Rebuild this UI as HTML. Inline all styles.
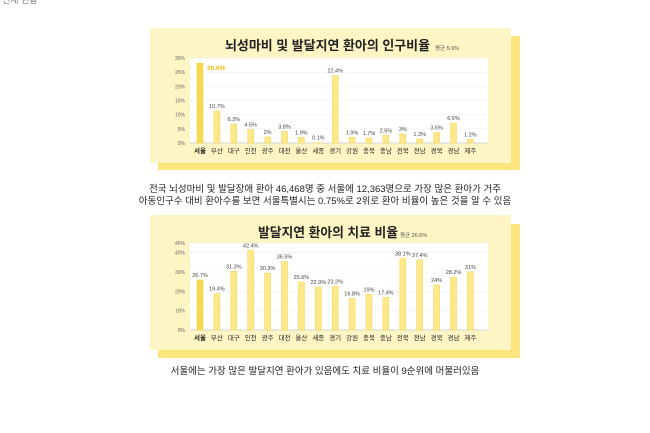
<!DOCTYPE html>
<html><head><meta charset="utf-8"><style>
body{margin:0;width:650px;height:433px;background:#fff;overflow:hidden;font-family:"Liberation Sans","Noto Sans CJK KR",sans-serif;}
svg{position:absolute;left:0;top:0}
.cap{position:absolute;left:0;width:650px;text-align:center;font-size:9.5px;color:#222;font-family:"Liberation Sans","Noto Sans CJK KR",sans-serif;}
</style></head><body>
<svg id="s" width="650" height="433" xmlns="http://www.w3.org/2000/svg" font-family="Liberation Sans, Noto Sans CJK KR, sans-serif">
<text x="2" y="3" font-size="9" fill="#777">전체 현황</text>
<rect x="158" y="36" width="362" height="134" fill="#fbe57c"/>
<rect x="150" y="28" width="361" height="135" fill="#fdf6c4"/>
<rect x="190" y="58" width="298" height="85" fill="#fff"/>
<text x="225" y="50" font-size="13" font-weight="bold" textLength="205" lengthAdjust="spacingAndGlyphs" fill="#222">뇌성마비 및 발달지연 환아의 인구비율</text>
<text x="435" y="50" font-size="5.5" fill="#555">평균 5.9%</text>
<rect x="158" y="224" width="362" height="134" fill="#fbe57c"/>
<rect x="150" y="215" width="361" height="135" fill="#fdf6c4"/>
<rect x="190" y="243" width="298" height="87" fill="#fff"/>
<text x="258" y="237" font-size="13" font-weight="bold" textLength="140" lengthAdjust="spacingAndGlyphs" fill="#222">발달지연 환아의 치료 비율</text>
<text x="400" y="237" font-size="5.5" fill="#555">평균 26.6%</text>
<g id="g"></g>
</svg>
<div class="cap" style="top:181px">전국 뇌성마비 및 발달장애 환아 46,468명 중 서울에 12,363명으로 가장 많은 환아가 거주</div>
<div class="cap" style="top:193px">아동인구수 대비 환아수를 보면 서울특별시는 0.75%로 2위로 환아 비율이 높은 것을 알 수 있음</div>
<div class="cap" style="top:363px">서울에는 가장 많은 발달지연 환아가 있음에도 치료 비율이 9순위에 머물러있음</div>
<script>
var reg=["서울","부산","대구","인천","광주","대전","울산","세종","경기","강원","충북","충남","전북","전남","경북","경남","제주"];
var v1=[26.6,10.7,6.3,4.5,2,3.8,1.9,0.1,22.4,1.9,1.7,2.5,3,1.3,3.5,6.6,1.2];
var v2=[26.7,19.4,31.3,42.4,30.3,36.5,25.6,22.9,23.2,16.8,19,17.4,38.1,37.4,24,28.2,31];
var h="";
function chart(vals,y0,pxper,ticks,tickpx,lx,seoulLbl,fac){
 ticks.forEach(function(t){var y=y0-t*tickpx;h+='<line x1="190" x2="488" y1="'+y+'" y2="'+y+'" stroke="#eee" stroke-width="0.5"/><text x="185" y="'+(y+2)+'" font-size="5" text-anchor="end" fill="#666">'+t+'%</text>';});
 h+='<line x1="190" x2="488" y1="'+y0+'" y2="'+y0+'" stroke="#ccc" stroke-width="0.8"/>';
 vals.forEach(function(v,i){var cx=200+i*16.9,bh=v*pxper*fac,top=y0-bh;
  h+='<rect x="'+(cx-3)+'" y="'+top+'" width="6" height="'+bh+'" fill="'+(i==0?"#f8d94c":"#fde98c")+'" stroke="#f3d44a" stroke-width="0.5"/>';
  if(i==0&&seoulLbl){h+='<text x="207" y="'+(top+7)+'" font-size="6.5" font-weight="bold" fill="#f2b90f">'+v+'%</text>';}
  else h+='<text x="'+cx+'" y="'+(top-3)+'" font-size="5.5" text-anchor="middle" fill="#444">'+v+'%</text>';
  h+='<text x="'+cx+'" y="'+(y0+10)+'" font-size="6.5" text-anchor="middle" fill="#222"'+(i==0?' font-weight="bold"':'')+'>'+reg[i]+'</text>';});
}
chart(v1,143,85/30,[0,5,10,15,20,25,30],85/30,0,true,1.06);
chart(v2,330,87/45,[0,10,20,30,40,45],87/45,0,false,0.97);
document.getElementById("g").innerHTML=h;
</script>
</body></html>
